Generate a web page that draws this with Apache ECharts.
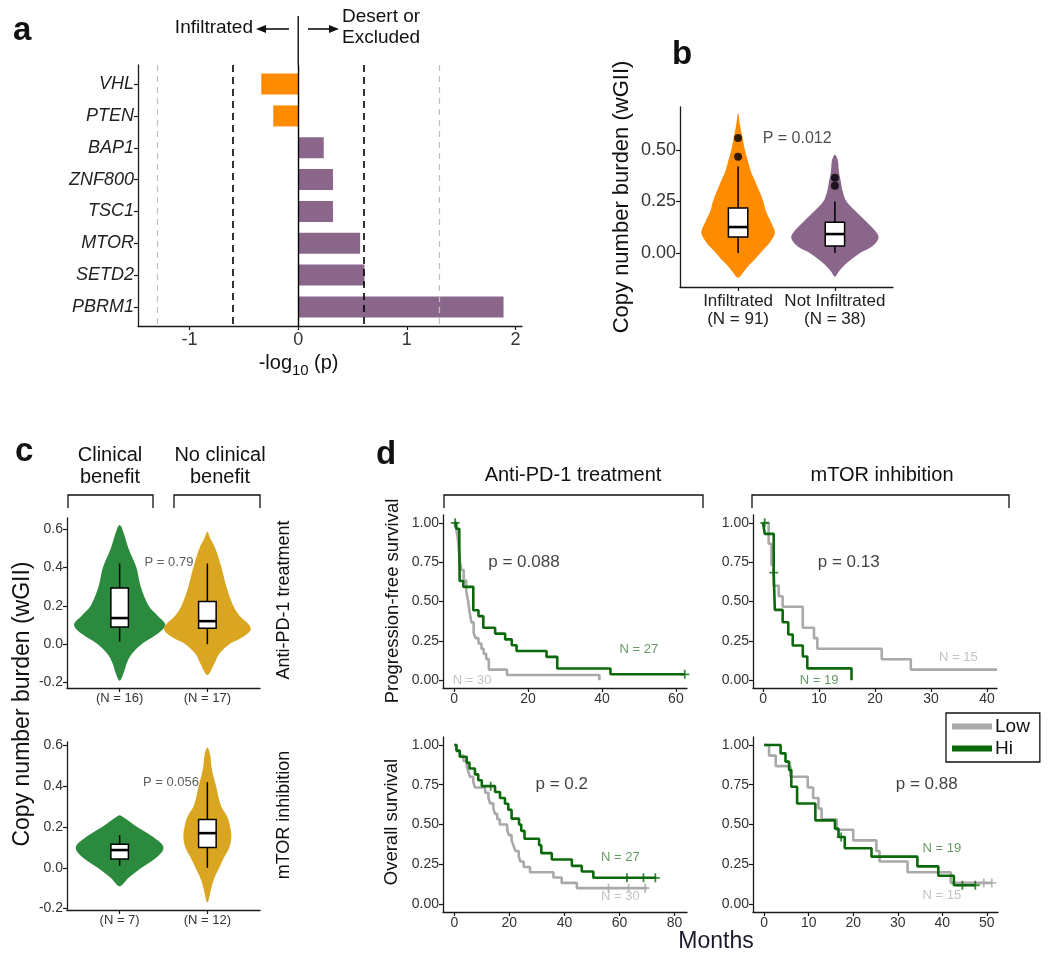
<!DOCTYPE html>
<html><head><meta charset="utf-8">
<script src="https://cdn.jsdelivr.net/npm/echarts@6/dist/echarts.min.js"></script>
<style>html,body{margin:0;padding:0;background:#fff}#c{width:1050px;height:964px}</style>
</head><body><div id="c"></div>
<script>
const FONT = '"Liberation Sans", Arial, Helvetica, sans-serif';

// ---------------- Panel a ----------------
const genes = ['VHL','PTEN','BAP1','ZNF800','TSC1','MTOR','SETD2','PBRM1'];
const geneLogP = [-0.34,-0.23,0.235,0.32,0.32,0.57,0.61,1.89];
const aXTicks = [-1,0,1,2];
const aThreshBlack = [-0.602,0.602];
const aThreshGray = [-1.301,1.301];

// ---------------- Panel b ----------------
const bLabels = ['Infiltrated\n(N = 91)','Not Infiltrated\n(N = 38)'];
const bYTicks = [0,0.25,0.5];
const bViolinInf = [[0.68,0],[0.62,0.02],[0.55,0.05],[0.5,0.07],[0.45,0.10],[0.4,0.13],[0.35,0.175],[0.3,0.22],[0.25,0.26],[0.2,0.29],[0.15,0.34],[0.1,0.38],[0.06,0.34],[0.03,0.29],[0,0.23],[-0.03,0.175],[-0.06,0.11],[-0.09,0.06],[-0.12,0]];
const bViolinNot = [[0.477,0],[0.45,0.03],[0.4,0.04],[0.35,0.06],[0.3,0.08],[0.25,0.12],[0.2,0.22],[0.15,0.33],[0.1,0.43],[0.07,0.45],[0.03,0.38],[0,0.26],[-0.05,0.12],[-0.09,0.04],[-0.115,0]];
const bBoxInf = [0,0.078,0.126,0.218,0.42];
const bBoxNot = [0,0.034,0.092,0.15,0.25];
const bOutliers = [[0,0.559],[0,0.467],[1,0.366],[1,0.327]];

// ---------------- Panel c ----------------
const cLabelsTop = ['(N = 16)','(N = 17)'];
const cLabelsBot = ['(N = 7)','(N = 12)'];
const cYTicks = [-0.2,0,0.2,0.4,0.6];
const cTopViolinCB = [[0.62,0],[0.6,0.03],[0.5,0.10],[0.4,0.19],[0.3,0.24],[0.2,0.33],[0.15,0.43],[0.1,0.52],[0.05,0.42],[0,0.25],[-0.05,0.14],[-0.1,0.08],[-0.15,0.045],[-0.19,0]];
const cTopViolinNCB = [[0.585,0],[0.55,0.034],[0.5,0.09],[0.4,0.16],[0.3,0.216],[0.2,0.295],[0.15,0.364],[0.1,0.477],[0.07,0.489],[0.03,0.375],[0,0.25],[-0.05,0.136],[-0.1,0.08],[-0.16,0]];
const cBotViolinCB = [[0.258,0],[0.25,0.034],[0.2,0.2],[0.15,0.386],[0.1,0.5],[0.05,0.42],[0,0.25],[-0.05,0.1],[-0.09,0]];
const cBotViolinNCB = [[0.59,0],[0.55,0.034],[0.5,0.045],[0.45,0.068],[0.4,0.1],[0.35,0.125],[0.3,0.16],[0.25,0.227],[0.2,0.26],[0.15,0.273],[0.1,0.25],[0.05,0.19],[0,0.136],[-0.05,0.08],[-0.1,0.045],[-0.17,0]];
const cTopBoxCB = [0.014,0.089,0.136,0.292,0.42];
const cTopBoxNCB = [0,0.083,0.12,0.222,0.42];
const cBotBoxCB = [0.01,0.043,0.087,0.116,0.16];
const cBotBoxNCB = [0,0.10,0.17,0.237,0.42];

// ---------------- Panel d (Kaplan-Meier) ----------------
const dYTicks = [0,0.25,0.5,0.75,1];
const pfsPd1Hi = [[0,1],[0.6,0.963],[1.4,0.926],[1.5,0.63],[2.5,0.593],[5.2,0.444],[6.6,0.407],[7.9,0.333],[11.1,0.296],[13.8,0.259],[15.6,0.222],[16.9,0.185],[25,0.148],[27.9,0.074],[42.3,0.037],[62.4,0.037]];
const pfsPd1HiCens = [[0.3,1],[62.4,0.037]];
const pfsPd1Low = [[0,1],[0.5,0.967],[1,0.9],[1.5,0.767],[2,0.7],[2.6,0.633],[3.3,0.567],[3.8,0.5],[4.2,0.433],[4.7,0.367],[5.3,0.3],[5.8,0.267],[6.6,0.233],[7.4,0.2],[8,0.167],[8.7,0.133],[9.4,0.067],[14.3,0.033],[39.3,0.033],[39.3,0]];
const pfsMtorHi = [[0,1],[0.3,0.93],[1.9,0.684],[2.1,0.447],[3.5,0.368],[4.5,0.29],[5.3,0.22],[7.1,0.15],[7.9,0.075],[15.8,0.075],[15.8,0]];
const pfsMtorHiCens = [[0.3,1],[1.9,0.684]];
const pfsMtorLow = [[0,1],[1,0.867],[1.5,0.733],[1.9,0.6],[2.8,0.533],[3.5,0.467],[7.1,0.333],[9.1,0.267],[9.7,0.2],[21.2,0.133],[26.4,0.067],[41.8,0.067]];
const osPd1Hi = [[0,1],[0.8,0.963],[2,0.926],[4.5,0.889],[5.5,0.852],[7.5,0.815],[8.7,0.778],[10,0.741],[14.8,0.704],[16.6,0.667],[18.4,0.63],[19.6,0.593],[20.8,0.537],[23.5,0.5],[24.3,0.46],[25.5,0.41],[30.8,0.37],[31.6,0.32],[35.4,0.28],[42.7,0.24],[46.3,0.205],[50.5,0.165],[73.3,0.165]];
const osPd1HiCens = [[13.2,0.741],[62.7,0.165],[68.7,0.165],[73,0.165]];
const osPd1Low = [[0,1],[0.8,0.967],[2,0.933],[3.3,0.9],[4.5,0.867],[5.1,0.833],[5.7,0.8],[6.9,0.767],[7.5,0.733],[11.2,0.7],[12.4,0.667],[13,0.633],[14.2,0.6],[14.8,0.567],[15.6,0.533],[16.5,0.5],[19.2,0.467],[19.8,0.433],[20.8,0.4],[21.5,0.367],[22.2,0.333],[23.4,0.3],[24,0.267],[25.2,0.233],[27.5,0.2],[36,0.167],[39,0.133],[44.5,0.1],[70,0.1]];
const osPd1LowCens = [[56,0.1],[63.3,0.1],[69.3,0.1]];
const osMtorHi = [[0,1],[3.7,0.947],[4.8,0.895],[5.6,0.842],[6.1,0.737],[7.4,0.632],[11.5,0.526],[15.9,0.474],[16.7,0.421],[18.1,0.351],[24.1,0.298],[34.4,0.237],[39.1,0.178],[42.6,0.118],[47.4,0.118]];
const osMtorHiCens = [[17.3,0.421],[44.5,0.118],[47.4,0.118]];
const osMtorLow = [[0,1],[1.1,0.933],[2.6,0.867],[5.9,0.8],[9.8,0.733],[11,0.667],[12.2,0.6],[12.9,0.533],[16.3,0.467],[20,0.4],[25.2,0.333],[25.9,0.267],[32.2,0.2],[41.9,0.133],[51.1,0.133]];
const osMtorLowCens = [[49.3,0.133],[51.1,0.133]];

// ---------------- styling ----------------
const ORANGE = '#FF8C00', PURPLE = '#8B668B', VGREEN = '#2B8A3E', GOLD = '#DAA520';
const KMGREEN = '#0B690B', KMGRAY = '#A9A9A9', NGREEN = '#3D7F3D', NGRAY = '#B3B3B3';

const grids = [
  {left:138, top:65,  width:384, height:261},   // a
  {left:680, top:107, width:213, height:180},   // b
  {left:67,  top:518, width:193, height:170},   // c top
  {left:67,  top:742, width:193, height:168},   // c bottom
  {left:443, top:515, width:244, height:173},   // d PFS PD1
  {left:753, top:515, width:244, height:173},   // d PFS mTOR
  {left:443, top:737, width:244, height:175},   // d OS PD1
  {left:753, top:737, width:245, height:175}    // d OS mTOR
].map(g => Object.assign({outerBoundsMode:'none', containLabel:false}, g));

function axis(gi, min, max, ticks, fmt, label) {
  return {
    type:'value', gridIndex:gi, min:min, max:max,
    axisLine:{show:true, onZero:false, lineStyle:{color:'#1a1a1a', width:1.3}},
    axisTick:{show:true, length:4, customValues:ticks, lineStyle:{color:'#1a1a1a', width:1.2}},
    axisLabel:Object.assign({customValues:ticks, formatter:fmt, fontSize:14, color:'#333', fontFamily:FONT, margin:4}, label||{}),
    splitLine:{show:false}
  };
}
const f2 = v => v.toFixed(2), f1 = v => v.toFixed(1), f0 = v => String(v);

const xAxes = [
  axis(0, -1.475, 2.06, aXTicks, f0, {fontSize:18, margin:5}),
  axis(1, -0.6, 1.6, [0,1], v => bLabels[Math.round(v)], {fontSize:17, lineHeight:18, margin:5, color:'#222'}),
  axis(2, -0.6, 1.6, [0,1], v => cLabelsTop[Math.round(v)], {fontSize:13, margin:4}),
  axis(3, -0.6, 1.6, [0,1], v => cLabelsBot[Math.round(v)], {fontSize:13, margin:4}),
  axis(4, -3, 63, [0,20,40,60], f0, {fontSize:14}),
  axis(5, -1.8, 41.8, [0,10,20,30,40], f0, {fontSize:14}),
  axis(6, -4.1, 84.5, [0,20,40,60,80], f0, {fontSize:14}),
  axis(7, -2.5, 52.5, [0,10,20,30,40,50], f0, {fontSize:14})
];
const yAxes = [
  Object.assign(axis(0, -0.6, 7.6, [0,1,2,3,4,5,6,7], v => genes[Math.round(v)], {fontSize:18, fontStyle:'italic', color:'#222', margin:4}), {inverse:true}),
  axis(1, -0.165, 0.709, bYTicks, f2, {fontSize:18}),
  axis(2, -0.228, 0.657, cYTicks, f1, {fontSize:14}),
  axis(3, -0.207, 0.617, cYTicks, f1, {fontSize:14}),
  axis(4, -0.05, 1.05, dYTicks, f2, {fontSize:14}),
  axis(5, -0.05, 1.05, dYTicks, f2, {fontSize:14}),
  axis(6, -0.05, 1.05, dYTicks, f2, {fontSize:14}),
  axis(7, -0.05, 1.05, dYTicks, f2, {fontSize:14})
];

const series = [];

// Panel a bars
series.push({
  type:'custom', xAxisIndex:0, yAxisIndex:0, silent:true, z:2,
  data: geneLogP.map((v,i)=>[v,i]), encode:{x:0, y:1},
  renderItem:(p, api) => {
    const v = api.value(0), i = api.value(1);
    const a = api.coord([0,i]), b = api.coord([v,i]);
    const h = api.size([0,0.66])[1];
    return {type:'rect', shape:{x:Math.min(a[0],b[0]), y:a[1]-h/2, width:Math.abs(b[0]-a[0]), height:h},
            style:{fill: v < 0 ? ORANGE : PURPLE}};
  }
});
series.push({
  type:'scatter', xAxisIndex:0, yAxisIndex:0, data:[], z:5, silent:true,
  markLine:{symbol:'none', silent:true, label:{show:false}, animation:false,
    data: aThreshGray.map(v=>({xAxis:v, lineStyle:{color:'#BEBEBE', width:1.2, type:[6,5]}}))
      .concat(aThreshBlack.map(v=>({xAxis:v, lineStyle:{color:'#000', width:1.6, type:[7,5]}})))
      .concat([{xAxis:0, lineStyle:{color:'#000', width:1.4, type:'solid'}}])
  }
});

// violins & boxes
function violin(gi, profiles, colors) {
  return {
    type:'custom', xAxisIndex:gi, yAxisIndex:gi, silent:true, z:2,
    data: profiles.map((p,i)=>[i,0]), encode:{x:0, y:1},
    renderItem:(params, api) => {
      const i = params.dataIndex, prof = profiles[i];
      const right = prof.map(([y,w]) => api.coord([i+w, y]));
      const left = prof.slice(1, prof.length-1).reverse().map(([y,w]) => api.coord([i-w, y]));
      return {type:'polygon', shape:{points:right.concat(left), smooth:0.35}, style:{fill:colors[i]}};
    }
  };
}
function boxes(gi, stats) {
  return {
    type:'custom', xAxisIndex:gi, yAxisIndex:gi, silent:true, z:3,
    data: stats.map((s,i)=>[i, s[2]]), encode:{x:0, y:1},
    renderItem:(params, api) => {
      const i = params.dataIndex, s = stats[i], hw = 0.1;
      const top = api.coord([i, s[4]]), bot = api.coord([i, s[0]]);
      const lo = api.coord([i-hw, s[1]]), hi = api.coord([i+hw, s[3]]);
      const m1 = api.coord([i-hw, s[2]]), m2 = api.coord([i+hw, s[2]]);
      return {type:'group', children:[
        {type:'line', shape:{x1:top[0], y1:top[1], x2:bot[0], y2:bot[1]}, style:{stroke:'#000', lineWidth:1.5}},
        {type:'rect', shape:{x:lo[0], y:hi[1], width:hi[0]-lo[0], height:lo[1]-hi[1]}, style:{fill:'#fff', stroke:'#000', lineWidth:1.5}},
        {type:'line', shape:{x1:m1[0], y1:m1[1], x2:m2[0], y2:m2[1]}, style:{stroke:'#000', lineWidth:2.6}}
      ]};
    }
  };
}
series.push(violin(1, [bViolinInf, bViolinNot], [ORANGE, PURPLE]));
series.push(boxes(1, [bBoxInf, bBoxNot]));
series.push({type:'scatter', xAxisIndex:1, yAxisIndex:1, data:bOutliers, symbolSize:8, itemStyle:{color:'#000'}, z:4, silent:true});
series.push(violin(2, [cTopViolinCB, cTopViolinNCB], [VGREEN, GOLD]));
series.push(boxes(2, [cTopBoxCB, cTopBoxNCB]));
series.push(violin(3, [cBotViolinCB, cBotViolinNCB], [VGREEN, GOLD]));
series.push(boxes(3, [cBotBoxCB, cBotBoxNCB]));

// KM curves
const PLUS = 'path://M4,0H6V4H10V6H6V10H4V6H0V4H4Z';
function km(gi, name, data, color) {
  return {type:'line', name:name, xAxisIndex:gi, yAxisIndex:gi, data:data, step:'end',
    showSymbol:false, symbol:'none', silent:true, z:3, color:color,
    itemStyle:{color:color}, lineStyle:{color:color, width:2.6}};
}
function cens(gi, data, color) {
  return {type:'scatter', name:'cens', xAxisIndex:gi, yAxisIndex:gi, data:data, symbol:PLUS, symbolSize:9,
    itemStyle:{color:color}, silent:true, z:4};
}
series.push(km(4,'Low',pfsPd1Low,KMGRAY), km(4,'Hi',pfsPd1Hi,KMGREEN), cens(4,pfsPd1HiCens,KMGREEN));
series.push(km(5,'Low',pfsMtorLow,KMGRAY), km(5,'Hi',pfsMtorHi,KMGREEN), cens(5,pfsMtorHiCens,KMGREEN));
series.push(km(6,'Low',osPd1Low,KMGRAY), km(6,'Hi',osPd1Hi,KMGREEN), cens(6,osPd1LowCens,KMGRAY), cens(6,osPd1HiCens,KMGREEN));
series.push(km(7,'Low',osMtorLow,KMGRAY), km(7,'Hi',osMtorHi,KMGREEN), cens(7,osMtorLowCens,KMGRAY), cens(7,osMtorHiCens,KMGREEN));

// in-plot annotations (placed in data coordinates)
function note(gi, x, y, text, size, color) {
  return {type:'scatter', xAxisIndex:gi, yAxisIndex:gi, data:[[x,y]], symbolSize:1, silent:true, z:6,
    itemStyle:{color:'rgba(0,0,0,0)'},
    label:{show:true, position:'inside', formatter:text, fontSize:size, color:color, fontFamily:FONT}};
}
series.push(note(1, 0.61, 0.555, 'P = 0.012', 16, '#222'));
series.push(note(2, 0.5625, 0.424, 'P = 0.79', 13, '#333'));
series.push(note(3, 0.585, 0.42, 'P = 0.056', 13, '#333'));
series.push(note(4, 18.9, 0.75, 'p = 0.088', 17, '#111'), note(4, 50, 0.197, 'N = 27', 13, NGREEN), note(4, 4.9, 0, 'N = 30', 13, NGRAY));
series.push(note(5, 15.3, 0.75, 'p = 0.13', 17, '#111'), note(5, 34.9, 0.147, 'N = 15', 13, NGRAY), note(5, 10, 0, 'N = 19', 13, NGREEN));
series.push(note(6, 39, 0.75, 'p = 0.2', 17, '#111'), note(6, 60.3, 0.29, 'N = 27', 13, NGREEN), note(6, 60.3, 0.046, 'N = 30', 13, NGRAY));
series.push(note(7, 36.5, 0.75, 'p = 0.88', 17, '#111'), note(7, 39.9, 0.35, 'N = 19', 13, NGREEN), note(7, 39.9, 0.053, 'N = 15', 13, NGRAY));

// decorative texts / brackets
function txt(x, y, text, size, opt) {
  opt = opt || {};
  return {type:'text', x:x, y:y, rotation:opt.rot||0, silent:true, z:10,
    style:{text:text, fontSize:size, fontFamily:FONT, fontWeight:opt.bold?'bold':'normal',
      fill:opt.color||'#111', align:opt.align||'center', verticalAlign:'middle'}};
}
function pline(points, w) {
  return {type:'polyline', silent:true, z:10, shape:{points:points}, style:{stroke:'#111', lineWidth:w||1.3, fill:null}};
}
const ga = grids[0];
const x0 = ga.left + (0 - (-1.475)) / (2.06 - (-1.475)) * ga.width;
const R = Math.PI/2;
const graphic = [
  // panel a
  txt(13, 31, 'a', 33, {bold:true, align:'left'}),
  txt(253, 28, 'Infiltrated', 19, {align:'right'}),
  pline([[289,29],[263,29]], 1.6),
  {type:'polygon', silent:true, shape:{points:[[256,29],[266,25],[266,33]]}, style:{fill:'#111'}},
  pline([[x0,16],[x0,ga.top]], 1.4),
  pline([[308,29],[331,29]], 1.6),
  {type:'polygon', silent:true, shape:{points:[[339,29],[329,25],[329,33]]}, style:{fill:'#111'}},
  txt(342, 17, 'Desert or', 19, {align:'left'}),
  txt(342, 38, 'Excluded', 19, {align:'left'}),
  txt(292, 363, '-log', 20, {align:'right'}),
  txt(292, 371, '10', 15, {align:'left'}),
  txt(314, 363, '(p)', 20, {align:'left'}),
  // panel b
  txt(672, 55, 'b', 33, {bold:true, align:'left'}),
  txt(622, 197, 'Copy number burden (wGII)', 22, {rot:R}),
  // panel c
  txt(15, 452, 'c', 33, {bold:true, align:'left'}),
  txt(110, 455, 'Clinical', 20), txt(110, 477, 'benefit', 20),
  txt(220, 455, 'No clinical', 20), txt(220, 477, 'benefit', 20),
  pline([[68,508],[68,495],[153,495],[153,508]]),
  pline([[174,508],[174,495],[260,495],[260,508]]),
  txt(284, 600, 'Anti-PD-1 treatment', 18, {rot:R}),
  txt(284, 815, 'mTOR inhibition', 18, {rot:R}),
  txt(23, 704, 'Copy number burden (wGII)', 23, {rot:R}),
  // panel d
  txt(376, 455, 'd', 33, {bold:true, align:'left'}),
  txt(573, 475, 'Anti-PD-1 treatment', 20),
  txt(882, 475, 'mTOR inhibition', 20),
  pline([[444,508],[444,495],[703,495],[703,508]]),
  pline([[752,508],[752,495],[1009,495],[1009,508]]),
  txt(393, 601, 'Progression-free survival', 18.5, {rot:R}),
  txt(392, 822, 'Overall survival', 18.5, {rot:R}),
  txt(716, 942, 'Months', 23, {color:'#1a1a2a'})
];

const chart = echarts.init(document.getElementById('c'), null, {renderer:'canvas'});
chart.setOption({
  animation:false,
  backgroundColor:'#fff',
  textStyle:{fontFamily:FONT},
  grid:grids, xAxis:xAxes, yAxis:yAxes, series:series, graphic:graphic,
  legend:{data:['Low','Hi'], orient:'vertical', left:946, top:713, icon:'rect', itemWidth:40, itemHeight:6,
    itemGap:3, padding:[4,10,4,6], borderColor:'#111', borderWidth:1.3, selectedMode:false,
    textStyle:{fontSize:19, color:'#111', fontFamily:FONT, padding:[0,0,0,-2]}}
});
</script></body></html>
